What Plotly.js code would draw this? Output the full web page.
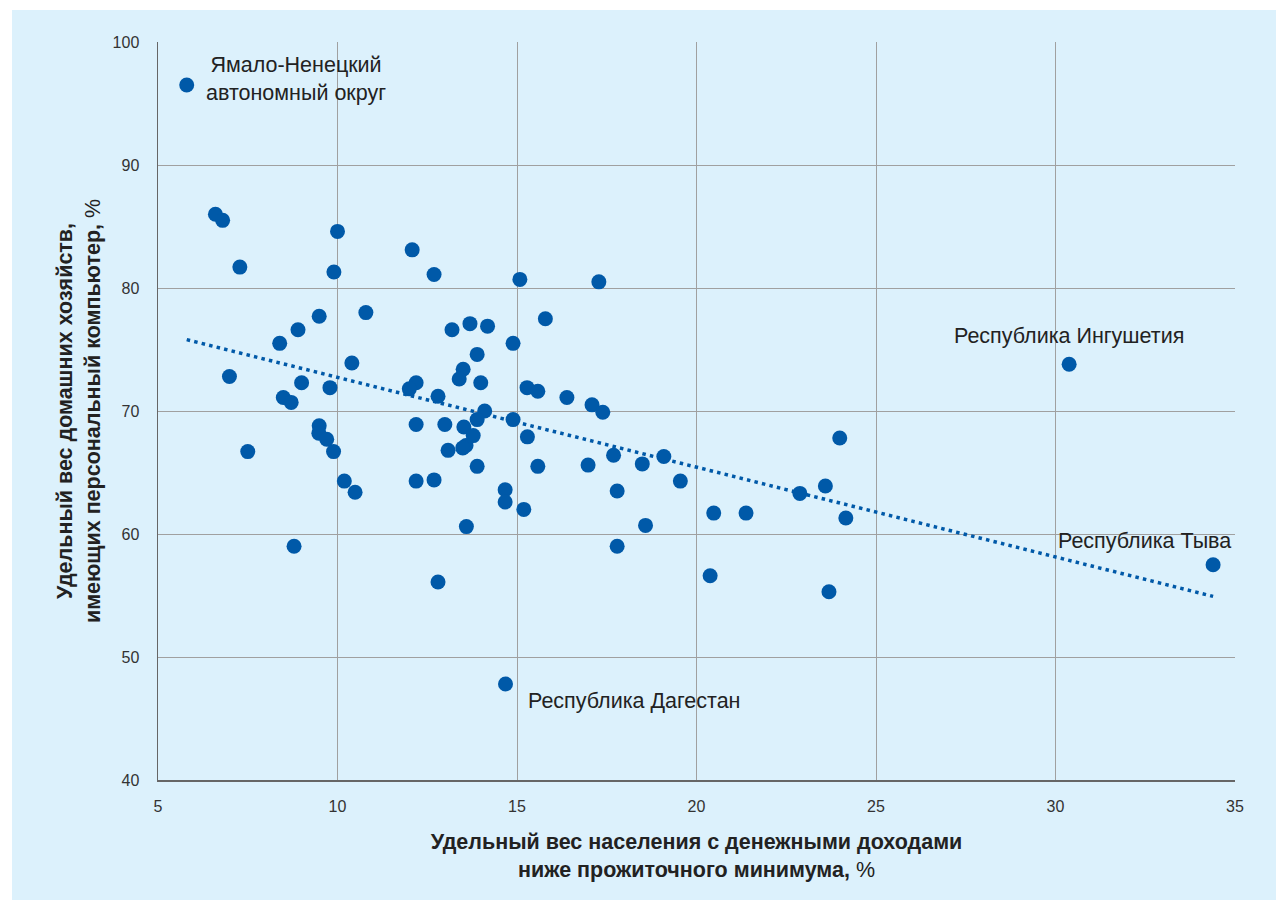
<!DOCTYPE html>
<html>
<head>
<meta charset="utf-8">
<script src="https://cdn.plot.ly/plotly-3.0.1.min.js"></script>
<style>
  html, body { margin: 0; padding: 0; background: #ffffff; width: 1276px; height: 900px; overflow: hidden; }
  #chart { position: absolute; left: 12px; top: 10px; width: 1264px; height: 890px; }
</style>
</head>
<body>
<div id="chart"></div>
<script>
// Poverty share (% of population below subsistence minimum)
const povertyX = [
  5.8, 6.6, 6.8, 7.28, 10.0, 9.9, 12.08, 12.69, 15.08, 17.28,
  9.49, 10.79, 8.9, 8.39, 10.4, 6.99, 9.0, 9.79, 8.49, 8.71,
  12.19, 12.0, 12.8, 13.19, 9.49, 9.48, 9.7, 9.89, 7.5, 12.19,
  12.99, 13.08, 10.19, 10.49, 12.19, 12.69, 8.79, 12.8, 15.79, 13.69,
  14.18, 14.89, 13.89, 13.5, 13.39, 13.99, 15.28, 15.58, 16.39, 17.09,
  17.39, 14.1, 13.89, 14.89, 13.52, 13.78, 13.58, 13.49, 15.29, 17.69,
  19.09, 13.89, 15.58, 16.98, 18.49, 14.67, 14.67, 15.19, 17.79, 19.55,
  13.59, 18.58, 17.79, 14.68, 20.48, 21.38, 20.38, 22.88, 23.59, 23.99,
  24.16, 30.38, 23.69, 34.39
];
// Share of households with a personal computer, %
const pcShareY = [
  96.5, 86.0, 85.5, 81.7, 84.6, 81.3, 83.1, 81.1, 80.7, 80.5,
  77.7, 78.0, 76.6, 75.5, 73.9, 72.8, 72.3, 71.9, 71.1, 70.7,
  72.3, 71.8, 71.2, 76.6, 68.8, 68.2, 67.7, 66.7, 66.7, 68.9,
  68.9, 66.8, 64.3, 63.4, 64.3, 64.4, 59.0, 56.1, 77.5, 77.1,
  76.9, 75.5, 74.6, 73.4, 72.6, 72.3, 71.9, 71.6, 71.1, 70.5,
  69.9, 70.0, 69.3, 69.3, 68.7, 68.0, 67.2, 67.0, 67.9, 66.4,
  66.3, 65.5, 65.5, 65.6, 65.7, 63.6, 62.6, 62.0, 63.5, 64.3,
  60.6, 60.7, 59.0, 47.8, 61.7, 61.7, 56.6, 63.3, 63.9, 67.8,
  61.3, 73.8, 55.3, 57.5
];
// Linear trend line, endpoints
const trendX = [5.8, 34.39];
const trendY = [75.8, 54.93];

// Labelled regions
const labelText = [
  "Ямало-Ненецкий<br>автономный округ",
  "Республика Ингушетия",
  "Республика Тыва",
  "Республика Дагестан"
];
const labelX = [8.84, 30.38, 32.48, 18.25];
const labelY = [97.0, 76.1, 59.43, 46.42];

const xTickVals = [5, 10, 15, 20, 25, 30, 35];
const yTickVals = [40, 50, 60, 70, 80, 90, 100];

const xTitle = "<b>Удельный вес населения с денежными доходами<br>ниже прожиточного минимума,</b> %";
const yTitle = "<b>Удельный вес домашних хозяйств,<br>имеющих персональный компьютер,</b> %";

const BLUE = "#0059a8";
const BG = "#dcf1fc";
const baseFont = "Liberation Sans, Arial, Helvetica, sans-serif";

const traces = [
  {
    x: trendX, y: trendY, type: "scatter", mode: "lines",
    line: { color: BLUE, width: 3.5, dash: "3.5px,4.2px" },
    hoverinfo: "skip", showlegend: false
  },
  {
    x: povertyX, y: pcShareY, type: "scatter", mode: "markers",
    marker: { color: BLUE, size: 15, line: { width: 0 } },
    showlegend: false
  }
];

const annotations = labelText.map((t, i) => ({
  x: labelX[i], y: labelY[i], xref: "x", yref: "y",
  text: t, showarrow: false, xanchor: "center", yanchor: "middle", align: "center",
  font: { family: baseFont, size: 21.5, color: "#222222" }
}));

const layout = {
  width: 1264, height: 890,
  paper_bgcolor: BG, plot_bgcolor: BG,
  margin: { l: 146, r: 41, t: 32, b: 120 },
  showlegend: false,
  font: { family: baseFont, color: "#333333" },
  xaxis: {
    range: [5, 35], tickvals: xTickVals, ticktext: xTickVals.map(String),
    showgrid: true, gridcolor: "#a0a0a0", gridwidth: 1,
    showline: true, linecolor: "#666666", linewidth: 1.5, mirror: false,
    zeroline: false, ticks: "outside", ticklen: 11, tickcolor: "rgba(0,0,0,0)",
    tickfont: { family: baseFont, size: 16, color: "#333333" },
    title: { text: xTitle, standoff: 20, font: { family: baseFont, size: 21.5, color: "#222222" } },
    automargin: false, fixedrange: true
  },
  yaxis: {
    range: [40, 100], tickvals: yTickVals, ticktext: yTickVals.map(String),
    showgrid: true, gridcolor: "#a0a0a0", gridwidth: 1,
    showline: true, linecolor: "#666666", linewidth: 1.5,
    zeroline: false, ticks: "outside", ticklen: 14, tickcolor: "rgba(0,0,0,0)",
    tickfont: { family: baseFont, size: 16, color: "#333333" },
    title: { text: yTitle, standoff: 6, font: { family: baseFont, size: 21.5, color: "#222222" } },
    automargin: false, fixedrange: true
  },
  annotations: annotations
};

Plotly.newPlot("chart", traces, layout, { displayModeBar: false, staticPlot: true });
</script>
</body>
</html>
